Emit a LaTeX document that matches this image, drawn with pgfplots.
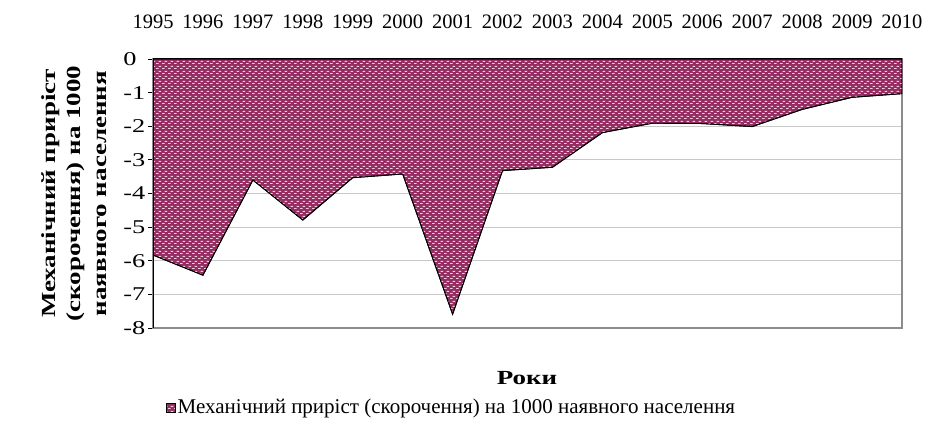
\documentclass[border=0pt]{standalone}
\usepackage{fontspec}
\setmainfont{Liberation Serif}
\usepackage{pgfplots}
\pgfplotsset{compat=1.18}
\usetikzlibrary{patterns}
\pgfdeclarepatternformonly{exceldots}{\pgfqpoint{0bp}{0bp}}{\pgfqpoint{6bp}{5bp}}{\pgfqpoint{6bp}{5bp}}{%
  \pgfpathrectangle{\pgfqpoint{0bp}{0bp}}{\pgfqpoint{3bp}{1.1bp}}%
  \pgfpathrectangle{\pgfqpoint{3bp}{2.5bp}}{\pgfqpoint{3bp}{1.1bp}}%
  \pgfusepath{fill}}
\definecolor{maroonx}{RGB}{150,45,98}
\definecolor{pinkx}{RGB}{238,205,222}
\definecolor{gridx}{RGB}{200,200,200}
\definecolor{borderx}{RGB}{140,140,140}

\begin{document}
\fontsize{19.5bp}{23.5bp}\selectfont
\begin{tikzpicture}
\useasboundingbox (0,0) rectangle (926bp,434bp);
\begin{axis}[
  at={(153bp,106bp)}, anchor=south west,
  scale only axis, width=749bp, height=269bp,
  xmin=1995, xmax=2010, ymin=-8, ymax=0,
  xtick={1995,...,2010}, ytick={-8,...,0},
  xtick pos=right, xticklabel pos=right,
  ytick pos=left, yticklabel pos=left,
  tick align=inside, major tick length=5bp,
  ytick style={xshift=-5bp},
  tick style={black, line width=0.8bp},
  ymajorgrids, grid style={gridx, line width=0.9bp},
  axis line style={borderx, line width=1.3bp},
  yticklabel style={anchor=west, inner sep=0pt, xshift=-30bp, xscale=1.35},
  xticklabel style={anchor=base, inner sep=0pt, yshift=30bp,
    font=\fontsize{20.5bp}{24bp}\selectfont},
  /pgf/number format/assume math mode=true,
  /pgf/number format/1000 sep={},
  legend style={at={(0.3985,-0.297)}, anchor=center, draw=none, fill=none,
    inner sep=0pt, legend cell align=left,
    font=\fontsize{21bp}{25bp}\selectfont,
    /tikz/every even column/.append style={column sep=4bp}},
  legend image code/.code={\draw[#1] (0bp,-4.5bp) rectangle (9bp,4.5bp);},
]
\addplot[draw=black, line width=0.9bp, fill=maroonx,
  postaction={pattern=exceldots, pattern color=pinkx}]
  coordinates {(1995,0) (1995,-5.83) (1996,-6.43) (1997,-3.6) (1998,-4.79)
    (1999,-3.53) (2000,-3.42) (2001,-7.59) (2002,-3.32) (2003,-3.22)
    (2004,-2.19) (2005,-1.91) (2006,-1.92) (2007,-2.01) (2008,-1.50)
    (2009,-1.14) (2010,-1.03) (2010,0)} -- cycle;
\addlegendentry{Механічний приріст (скорочення) на 1000 наявного населення}
\draw[black, line width=1bp] (rel axis cs:0,0) -- (rel axis cs:0,1) -- (rel axis cs:1,1);
\end{axis}
\node[rotate=90, xscale=1.35, align=center, font=\fontsize{20bp}{25.5bp}\selectfont\bfseries] at (74bp,240.5bp)
  {Механічний приріст\\(скорочення) на 1000\\наявного населення};
\node[xscale=1.35, font=\fontsize{20bp}{24bp}\selectfont\bfseries] at (527bp,56bp) {Роки};
\end{tikzpicture}
\end{document}
